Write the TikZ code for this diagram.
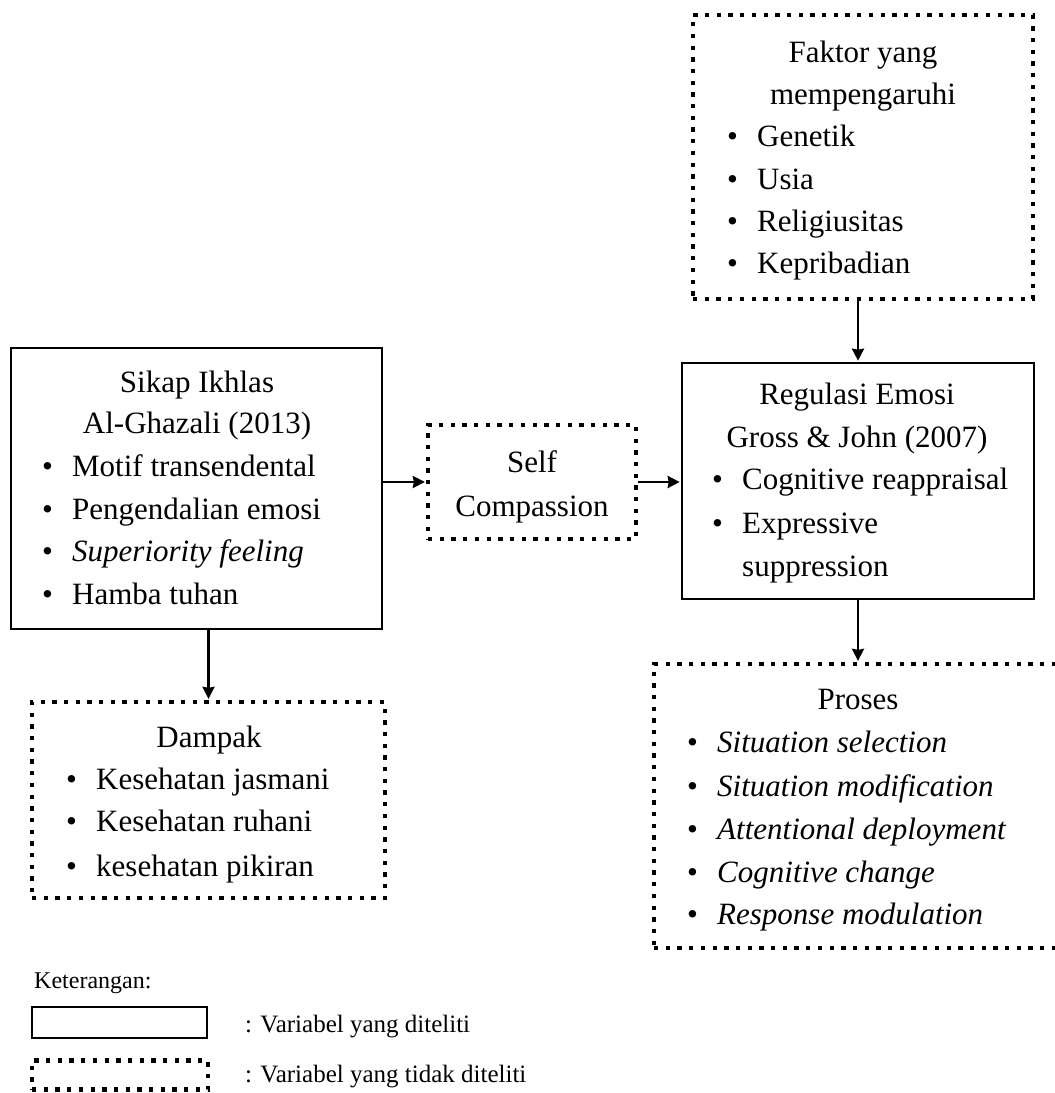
\documentclass[tikz,border=0pt]{standalone}
\usepackage{fontspec}
\setmainfont{Liberation Serif}
\usetikzlibrary{arrows.meta}
\newcommand{\bl}{\makebox[30pt][l]{\textbullet}}
\begin{document}
\begin{tikzpicture}[x=1pt,y=-1pt,
  solidbox/.style={draw,line width=2.6pt,inner sep=0pt,rectangle},
  dotbox/.style={draw,line width=4.3pt,dash pattern=on 4.3pt off 7.4pt,inner sep=0pt,rectangle},
  arr/.style={line width=2.5pt,-{Stealth[length=12pt,width=12pt,inset=1pt]},shorten >=1pt},
  txt/.style={font=\fontsize{31}{37}\selectfont,inner sep=0pt},
  item/.style={txt,anchor=base west},
  ttl/.style={txt,anchor=base},
  leg/.style={font=\fontsize{25}{30}\selectfont,inner sep=0pt,anchor=base west}]
\useasboundingbox (0,0) rectangle (1055,1093);
% boxes
\node[dotbox,minimum width=340pt,minimum height=284pt] (faktor) at (863,157) {};
\node[solidbox,minimum width=371pt,minimum height=281pt] (sikap) at (196.5,488.5) {};
\node[dotbox,minimum width=208pt,minimum height=114pt] (self) at (532,482) {};
\node[solidbox,minimum width=352pt,minimum height=236pt] (regulasi) at (858,481) {};
\node[dotbox,minimum width=410pt,minimum height=284pt] (proses) at (859,806) {};
\node[dotbox,minimum width=353pt,minimum height=196pt] (dampak) at (208.5,800) {};
% faktor texts
\node[ttl] (f0) at (863,62) {Faktor yang};
\node[ttl] (f0b) at (863,104) {mempengaruhi};
\node[item] (f1) at (727,146) {\bl Genetik};
\node[item] (f2) at (727,189) {\bl Usia};
\node[item] (f3) at (727,231) {\bl Religiusitas};
\node[item] (f4) at (727,273) {\bl Kepribadian};
% sikap texts
\node[ttl] (s0) at (197,392) {Sikap Ikhlas};
\node[ttl] (s0b) at (197,433) {Al-Ghazali (2013)};
\node[item] (s1) at (42,476) {\bl Motif transendental};
\node[item] (s2) at (42,519) {\bl Pengendalian emosi};
\node[item] (s3) at (42,561) {\bl \textit{Superiority feeling}};
\node[item] (s4) at (42,604) {\bl Hamba tuhan};
% self
\node[ttl] (c0) at (532,472) {Self};
\node[ttl] (c1) at (532,516) {Compassion};
% regulasi
\node[ttl] (r0) at (857,404) {Regulasi Emosi};
\node[ttl] (r0b) at (857,447) {Gross \& John (2007)};
\node[item] (r1) at (712,489) {\bl Cognitive reappraisal};
\node[item] (r2) at (712,533) {\bl Expressive};
\node[item] (r3) at (742,576) {suppression};
% proses
\node[ttl] (p0) at (858,709) {Proses};
\node[item] (p1) at (687,752) {\bl \textit{Situation selection}};
\node[item] (p2) at (687,796) {\bl \textit{Situation modification}};
\node[item] (p3) at (687,839) {\bl \textit{Attentional deployment}};
\node[item] (p4) at (687,882) {\bl \textit{Cognitive change}};
\node[item] (p5) at (687,924) {\bl \textit{Response modulation}};
% dampak
\node[ttl] (d0) at (209,747) {Dampak};
\node[item] (d1) at (66,789) {\bl Kesehatan jasmani};
\node[item] (d2) at (66,831) {\bl Kesehatan ruhani};
\node[item] (d3) at (66,876) {\bl kesehatan pikiran};
% arrows
\draw[arr] (faktor.south -| regulasi.north) -- (regulasi.north);
\draw[arr] (sikap.east |- self.west) -- (self.west);
\draw[arr] (self.east) -- (self.east -| regulasi.west);
\draw[arr] (sikap.south -| dampak.north) -- (dampak.north);
\draw[arr] (regulasi.south) -- (regulasi.south |- proses.north);
% legend
\node[leg,font=\fontsize{24}{28}\selectfont] (k) at (34,988) {Keterangan:};
\node[solidbox,line width=2.2pt,minimum width=175pt,minimum height=31pt] (l1) at (119.5,1022.5) {};
\node[dotbox,minimum width=176pt,minimum height=29pt] (l2) at (120,1075) {};
\node[leg] (lt1) at (245,1032) {: Variabel yang diteliti};
\node[leg] (lt2) at (245,1082) {: Variabel yang tidak diteliti};
\end{tikzpicture}
\end{document}
